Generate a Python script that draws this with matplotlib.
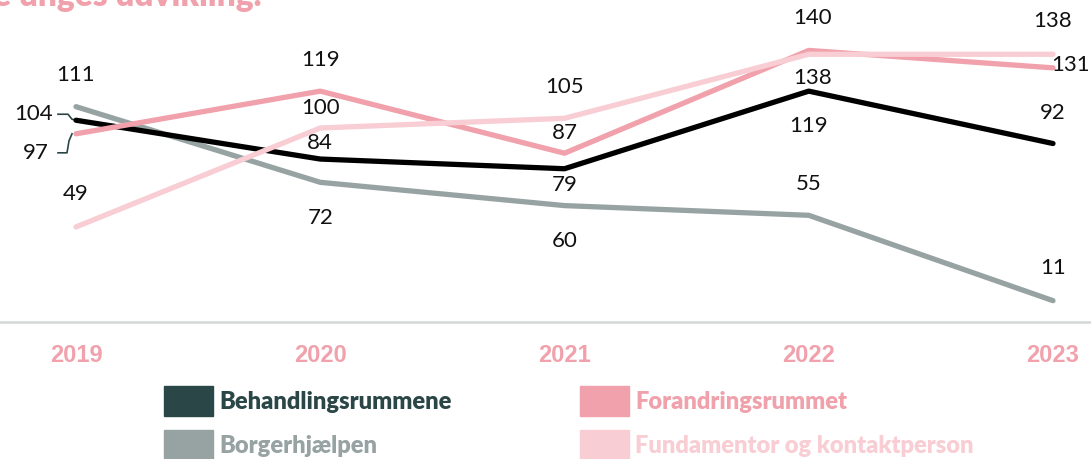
import matplotlib
matplotlib.use('Agg')
import matplotlib.pyplot as plt
from matplotlib.patches import Rectangle
from matplotlib.transforms import offset_copy

years = [2019, 2020, 2021, 2022, 2023]
series_names = ['Behandlingsrummene', 'Borgerhjælpen', 'Forandringsrummet', 'Fundamentor og kontaktperson']
behandling = [104, 84, 79, 119, 92]
borger = [111, 72, 60, 55, 11]
forandring = [97, 119, 87, 140, 131]
fundamentor = [49, 100, 105, 138, 138]
title_text = 'de unges udvikling.'

values = [behandling, borger, forandring, fundamentor]
line_colors = ['#000000', '#97a3a2', '#f0a1ab', '#f8cdd3']
patch_colors = ['#2b4646', '#97a3a2', '#f0a1ab', '#f8cdd3']
pink = '#f0a1ab'

# label offsets in pixels (dx, dy) relative to each point, dy positive = up
offsets = [
    [(-42, 6), (0, 16), (0, -16), (0, -35), (0, 31)],
    [(0, 32), (0, -36), (0, -35), (0, 31), (0, 33)],
    [(-40, -19), (0, 31), (0, 20), (4, 32), (18, 3)],
    [(0, 33), (0, 20), (0, 31), (4, -24), (0, 33)],
]

W, H = 1091, 459
fig = plt.figure(figsize=(W / 100, H / 100), dpi=100)
ax = fig.add_axes([0, 0, 1, 1])
px_per_year = (1053 - 76) / 4
ax.set_xlim(2019 - 76 / px_per_year, 2023 + (W - 1053) / px_per_year)
ppu = 1.94
ax.set_ylim(-(H - 322) / ppu, 322 / ppu)
ax.axis('off')

ax.axhline(0, color='#d3d8d7', lw=1.8, zorder=1)

order = [1, 0, 2, 3]
for i in order:
    ax.plot(years, values[i], color=line_colors[i], lw=3.8, solid_capstyle='round',
            solid_joinstyle='round', zorder=3 + order.index(i))

for i in range(4):
    for j, (x, v) in enumerate(zip(years, values[i])):
        dx, dy = offsets[i][j]
        tr = offset_copy(ax.transData, fig=fig, x=dx, y=dy, units='dots')
        ax.text(x, v, str(v), transform=tr, ha='center', va='center',
                fontsize=16, family=['Lato', 'DejaVu Sans'], color='#111111', zorder=10)

# leader lines for the two 2019 labels on the left
lead = '#2b4646'
for v, pts in [(behandling[0], [(-18, 6), (-8, 6), (-4, 1), (0, 0)]),
               (forandring[0], [(-18, -19), (-9, -19), (-7, -7), (-4, 0)])]:
    base = ax.transData.transform((2019, v))
    disp = [(base[0] + p[0], base[1] + p[1]) for p in pts]
    dat = ax.transData.inverted().transform(disp)
    ax.plot(dat[:, 0], dat[:, 1], color=lead, lw=1.2, zorder=2)

for x in years:
    ax.text(x, -(355 - 322) / ppu, str(x), ha='center', va='center', fontsize=17,
            fontweight='bold', family=['Liberation Sans', 'DejaVu Sans'], color=pink)

# title (cut off at top)
fig.text(262 / W, 1 - 6 / H, title_text, ha='right', va='baseline', fontsize=24,
         fontweight='heavy', family=['Lato', 'DejaVu Sans'], color=pink)

# legend
legend_pos = [(164, 386), (164, 430), (580, 386), (580, 430)]
for i, name in enumerate(series_names):
    lx, ly = legend_pos[i]
    fig.patches.append(Rectangle((lx / W, 1 - (ly + 30) / H), 49 / W, 30 / H,
                                 transform=fig.transFigure, color=patch_colors[i]))
    fig.text((lx + 55) / W, 1 - (ly + 16) / H, name, ha='left', va='center', fontsize=17,
             fontweight='heavy', family=['Lato', 'DejaVu Sans'], color=patch_colors[i])

fig.savefig('out.png', dpi=100)
plt.close(fig)
